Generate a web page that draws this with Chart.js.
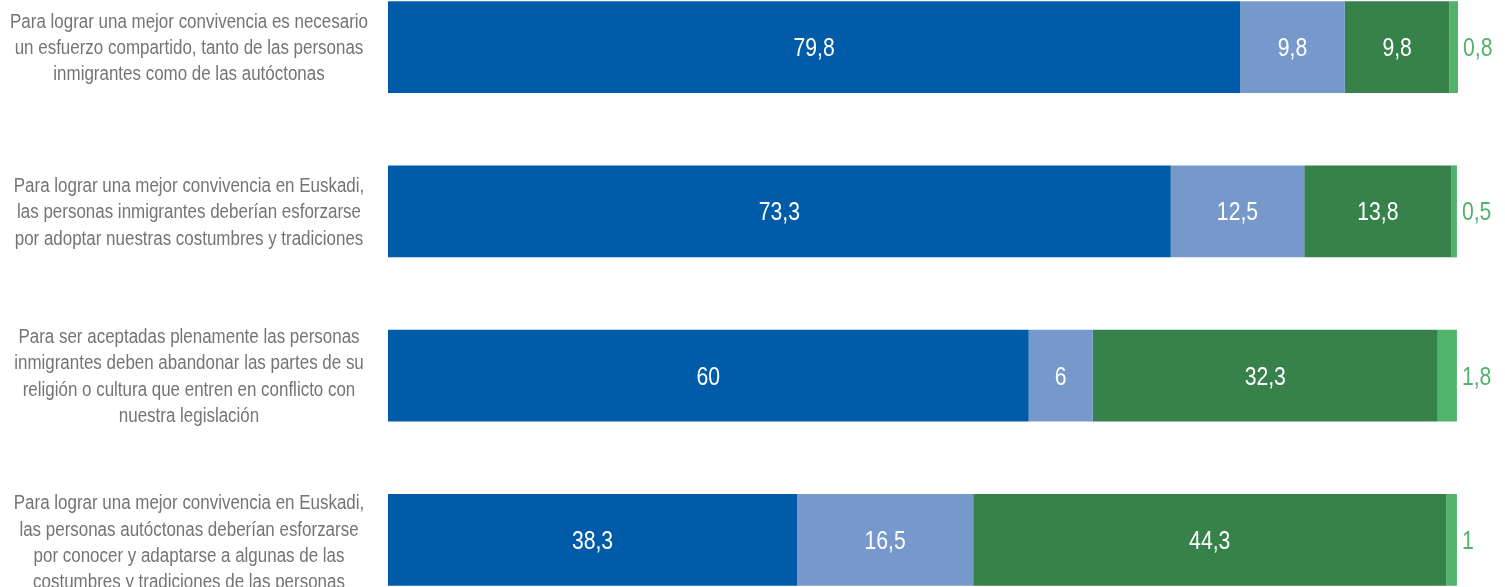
<!DOCTYPE html>
<html>
<head>
<meta charset="utf-8">
<script src="https://cdn.jsdelivr.net/npm/chart.js@4/dist/chart.umd.min.js"></script>
<style>
  html, body { margin: 0; padding: 0; background: #fff; }
  #frame { position: relative; width: 1505px; height: 587px; overflow: hidden; }
  #wrap { position: absolute; left: 0; top: -35px; width: 1505px; height: 657px; }
</style>
</head>
<body>
<div id="frame"><div id="wrap"><canvas id="grafico"></canvas></div></div>
<script>
const categorias = [
  ["Para lograr una mejor convivencia es necesario", "un esfuerzo compartido, tanto de las personas", "inmigrantes como de las autóctonas"],
  ["Para lograr una mejor convivencia en Euskadi,", "las personas inmigrantes deberían esforzarse", "por adoptar nuestras costumbres y tradiciones"],
  ["Para ser aceptadas plenamente las personas", "inmigrantes deben abandonar las partes de su", "religión o cultura que entren en conflicto con", "nuestra legislación"],
  ["Para lograr una mejor convivencia en Euskadi,", "las personas autóctonas deberían esforzarse", "por conocer y adaptarse a algunas de las", "costumbres y tradiciones de las personas", "inmigrantes"],
];

const serie1 = [79.8, 73.3, 60, 38.3];
const serie2 = [9.8, 12.5, 6, 16.5];
const serie3 = [9.8, 13.8, 32.3, 44.3];
const serie4 = [0.8, 0.5, 1.8, 1];

const colores = ["#005ca9", "#7798cb", "#36824a", "#52b36a"];
const fuente = "'Liberation Sans', Arial, sans-serif";

function formato(v) {
  return String(v).replace(".", ",");
}

// no hay Arial Narrow: se estrecha Liberation Sans a mano
let estrechar = 0.82;

function textoEstrecho(ctx, texto, x, y, align) {
  ctx.save();
  ctx.translate(x, y);
  ctx.scale(estrechar, 1);
  ctx.textAlign = align;
  ctx.fillText(texto, 0, 0);
  ctx.restore();
}

const etiquetas = {
  id: "etiquetas",
  afterDatasetsDraw(chart) {
    const ctx = chart.ctx;
    ctx.save();
    ctx.textBaseline = "alphabetic";

    // textos de categoria
    ctx.font = "20px " + fuente;
    estrechar = 358 / ctx.measureText(categorias[0][0]).width;
    ctx.fillStyle = "#747474";
    const escalaY = chart.scales.y;
    const interlinea = 26.3;
    categorias.forEach((lineas, i) => {
      const centro = escalaY.getPixelForValue(i);
      // el bloque de 5 lineas queda algo mas bajo en el original
      const desfase = lineas.length > 4 ? 15 : 0;
      const inicio = centro - ((lineas.length - 1) * interlinea) / 2 + desfase;
      lineas.forEach((linea, k) => {
        textoEstrecho(ctx, linea, 189, inicio + k * interlinea + 7, "center");
      });
    });

    // valores
    ctx.font = "25px " + fuente;
    chart.data.datasets.forEach((ds, i) => {
      const meta = chart.getDatasetMeta(i);
      meta.data.forEach((bar, j) => {
        const valor = formato(ds.data[j]);
        const y = bar.y + 9;
        if (i === 3) {
          ctx.fillStyle = colores[3];
          textoEstrecho(ctx, valor, bar.x + 5, y, "left");
        } else {
          ctx.fillStyle = "#ffffff";
          textoEstrecho(ctx, valor, (bar.base + bar.x) / 2, y, "center");
        }
      });
    });
    ctx.restore();
  },
};

const grafico = new Chart(document.getElementById("grafico").getContext("2d"), {
  type: "bar",
  data: {
    labels: categorias,
    datasets: [
      { label: "s1", data: serie1, backgroundColor: colores[0] },
      { label: "s2", data: serie2, backgroundColor: colores[1] },
      { label: "s3", data: serie3, backgroundColor: colores[2] },
      { label: "s4", data: serie4, backgroundColor: colores[3] },
    ],
  },
  options: {
    indexAxis: "y",
    responsive: true,
    maintainAspectRatio: false,
    animation: false,
    datasets: {
      bar: { categoryPercentage: 0.56, barPercentage: 1, borderWidth: 0 },
    },
    layout: { padding: { left: 0, right: 47, top: 0, bottom: 0 } },
    plugins: {
      legend: { display: false },
      tooltip: { enabled: false },
    },
    scales: {
      x: {
        stacked: true,
        min: 0,
        max: 100.2,
        display: false,
      },
      y: {
        stacked: true,
        grid: { display: false, drawTicks: false },
        border: { display: false },
        ticks: { display: false },
        afterFit: (scale) => {
          scale.width = 388;
          scale.paddingTop = 0;
          scale.paddingBottom = 0;
        },
      },
    },
  },
  plugins: [etiquetas],
});
</script>
</body>
</html>
